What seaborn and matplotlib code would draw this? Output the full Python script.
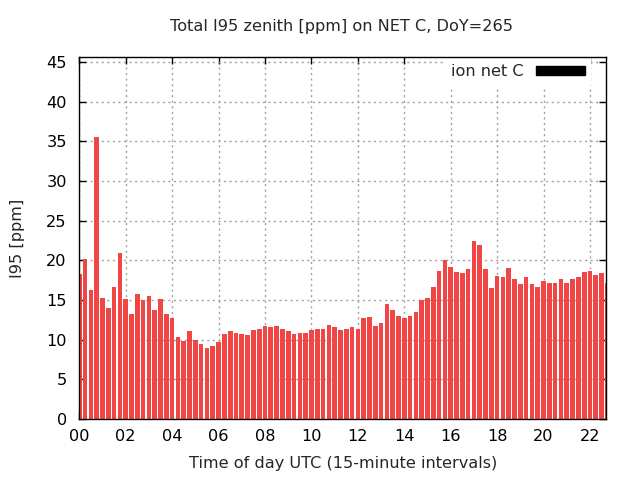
import matplotlib

matplotlib.use("Agg")
import matplotlib.pyplot as plt
import matplotlib.patches as mpatches
import numpy as np
import seaborn as sns

# I95 values per 15-minute interval, starting 00:00 UTC
i95 = [
    18.3, 20.2, 16.3, 35.6, 15.2, 14.0, 16.6, 20.9, 15.1, 13.2, 15.8, 15.0,
    15.5, 13.7, 15.1, 13.2, 12.7, 10.3, 9.8, 11.1, 9.9, 9.4, 8.9, 9.2,
    9.7, 10.7, 11.1, 10.9, 10.7, 10.6, 11.2, 11.4, 11.7, 11.6, 11.7, 11.3,
    11.1, 10.7, 10.8, 10.8, 11.2, 11.3, 11.4, 11.9, 11.6, 11.2, 11.4, 11.6,
    11.4, 12.7, 12.8, 11.7, 12.1, 14.5, 13.7, 13.0, 12.7, 13.0, 13.5, 15.0,
    15.3, 16.6, 18.7, 20.0, 19.1, 18.5, 18.4, 18.9, 22.5, 21.9, 18.9, 16.5,
    18.0, 17.9, 19.0, 17.7, 17.0, 17.9, 17.0, 16.6, 17.4, 17.1, 17.2, 17.6,
    17.1, 17.7, 17.9, 18.5, 18.6, 18.2, 18.4, 17.1,
]
hours = [i * 0.25 for i in range(len(i95))]
tick_hours = list(range(0, 24, 2))
tick_labels = [f"{h:02d}" for h in tick_hours]

title = "Total I95 zenith [ppm] on NET C, DoY=265"
legend_label = "ion net C"

FS = 11.6

sns.set_theme(style="ticks")
plt.rcParams["font.family"] = ["DejaVu Sans"]

fig = plt.figure(figsize=(6.4, 4.8), dpi=100)
ax = fig.add_axes([79.3 / 640, 61 / 480, (606 - 79.3) / 640, (419 - 57.3) / 480])

sns.barplot(
    x=hours, y=i95, native_scale=True, width=0.8, color="#F04646",
    saturation=1, linewidth=0, ax=ax, zorder=2,
)

ax.set_xlim(0, 22.69)
ax.set_ylim(0, 45.6)
ax.set_xticks(tick_hours)
ax.set_xticklabels(tick_labels)
ax.set_yticks(np.arange(0, 46, 5))

ax.grid(True, color="#a0a0a0", linestyle=(0, (1.5, 2.5)), linewidth=1, zorder=0)
ax.set_axisbelow(True)
for side in ["top", "right", "left", "bottom"]:
    ax.spines[side].set_visible(True)
    ax.spines[side].set_color("black")
    ax.spines[side].set_linewidth(1)
ax.tick_params(axis="both", direction="in", length=5, width=1, labelsize=FS,
               top=True, right=True, colors="black")
ax.tick_params(axis="x", pad=7)
ax.tick_params(axis="y", pad=9)

ax.set_xlabel("Time of day UTC (15-minute intervals)", fontsize=FS, labelpad=9)
ax.set_ylabel("I95 [ppm]", fontsize=FS, labelpad=15)
fig.text(0.533, 1 - 27 / 480, title, ha="center", va="center", fontsize=FS)

handle = mpatches.Patch(facecolor="black", edgecolor="black", label=legend_label)
leg = ax.legend(
    handles=[handle], loc="upper right", markerfirst=False, fontsize=FS,
    handlelength=3.0, handleheight=0.5, handletextpad=0.8, frameon=True,
    fancybox=False, borderaxespad=0.3, bbox_to_anchor=(0.981, 1.012),
)
leg.get_frame().set_facecolor("white")
leg.get_frame().set_edgecolor("none")
leg.get_frame().set_alpha(1)
leg.set_zorder(2.4)

fig.savefig("out.png", dpi=100)
